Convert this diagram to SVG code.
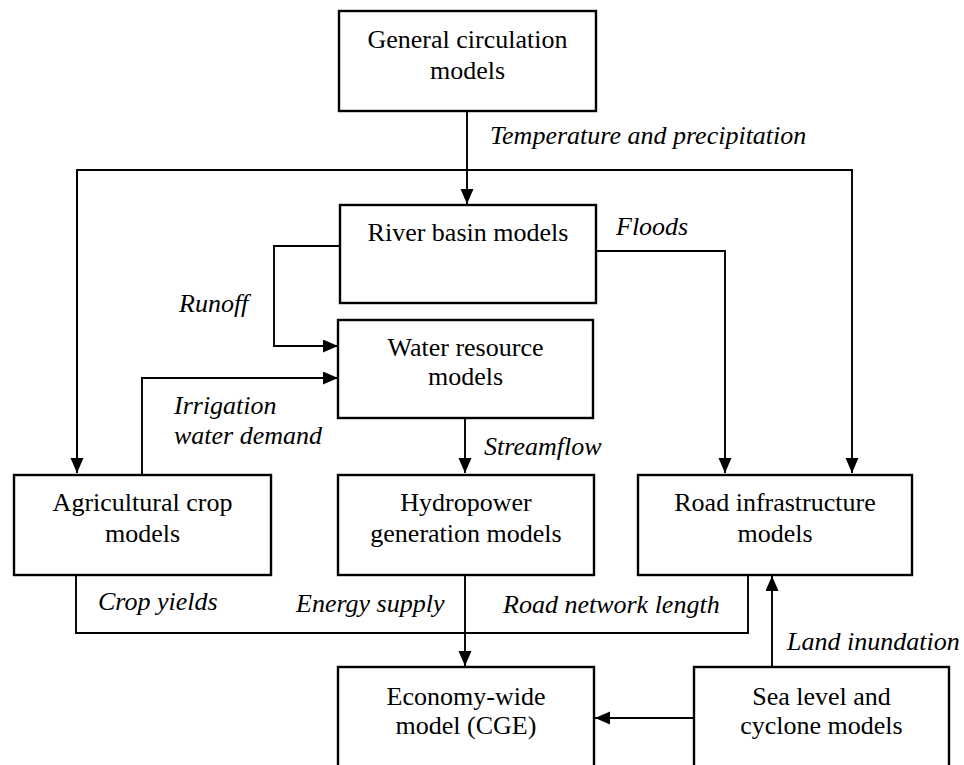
<svg xmlns="http://www.w3.org/2000/svg" width="964" height="765" viewBox="0 0 964 765" font-family="'Liberation Serif', 'Times New Roman', 'DejaVu Serif', serif">
<defs>
<style>
.box{fill:#fff;stroke:#000;stroke-width:2.4}
.ln{fill:none;stroke:#000;stroke-width:1.9}
.t{font-family:'Liberation Serif','Times New Roman','DejaVu Serif',serif;font-size:26px;fill:#000;text-anchor:middle}
.l{font-family:'Liberation Serif','Times New Roman','DejaVu Serif',serif;font-size:26px;font-style:italic;fill:#000}
</style>
<marker id="ah" markerUnits="userSpaceOnUse" markerWidth="16" markerHeight="14" refX="15" refY="6.5" orient="auto">
<path d="M0,0 L15,6.5 L0,13 Z" fill="#000"/>
</marker>
</defs>
<rect width="964" height="765" fill="#fff"/>
<g id="connectors">
<path class="ln" d="M467,111 V204" marker-end="url(#ah)"/>
<path class="ln" d="M77,473 V170 H852 V473" marker-end="url(#ah)"/>
<path class="ln" d="M77,170 V473" marker-end="url(#ah)"/>
<path class="ln" d="M340,246 H274 V346 H338" marker-end="url(#ah)"/>
<path class="ln" d="M596,251 H725 V473" marker-end="url(#ah)"/>
<path class="ln" d="M142,474 V378 H338" marker-end="url(#ah)"/>
<path class="ln" d="M465,418 V473" marker-end="url(#ah)"/>
<path class="ln" d="M76,566 V633 H748 V575"/>
<path class="ln" d="M465,575 V666" marker-end="url(#ah)"/>
<path class="ln" d="M772,667 V576" marker-end="url(#ah)"/>
<path class="ln" d="M694,718 H595" marker-end="url(#ah)"/>
<text class="l" x="490" y="144">Temperature and precipitation</text>
<text class="l" x="616" y="235">Floods</text>
<text class="l" x="179" y="312">Runoff</text>
<text class="l" x="174" y="414">Irrigation</text>
<text class="l" x="174" y="444">water demand</text>
<text class="l" x="484" y="455">Streamflow</text>
<text class="l" x="98" y="610">Crop yields</text>
<text class="l" x="296" y="612">Energy supply</text>
<text class="l" x="503" y="613">Road network length</text>
<text class="l" x="787" y="650">Land inundation</text>
</g>
<g id="gcm">
<rect class="box" x="339" y="11" width="257" height="100"/>
<text class="t" x="467.5" y="48">General circulation</text>
<text class="t" x="467.5" y="79">models</text>
</g>
<g id="river">
<rect class="box" x="340" y="205" width="256" height="98"/>
<text class="t" x="468" y="241">River basin models</text>
</g>
<g id="water">
<rect class="box" x="338" y="320" width="255" height="98"/>
<text class="t" x="465.5" y="356">Water resource</text>
<text class="t" x="465.5" y="385">models</text>
</g>
<g id="agri">
<rect class="box" x="14" y="475" width="257" height="100"/>
<text class="t" x="142.5" y="511">Agricultural crop</text>
<text class="t" x="142.5" y="542">models</text>
</g>
<g id="hydro">
<rect class="box" x="338" y="475" width="256" height="100"/>
<text class="t" x="466" y="511">Hydropower</text>
<text class="t" x="466" y="542">generation models</text>
</g>
<g id="road">
<rect class="box" x="638" y="475" width="274" height="100"/>
<text class="t" x="775" y="511">Road infrastructure</text>
<text class="t" x="775" y="542">models</text>
</g>
<g id="cge">
<rect class="box" x="338" y="667" width="256" height="110"/>
<text class="t" x="466" y="705">Economy-wide</text>
<text class="t" x="466" y="734">model (CGE)</text>
</g>
<g id="sea">
<rect class="box" x="694" y="667" width="255" height="110"/>
<text class="t" x="821.5" y="705">Sea level and</text>
<text class="t" x="821.5" y="734">cyclone models</text>
</g>
</svg>
